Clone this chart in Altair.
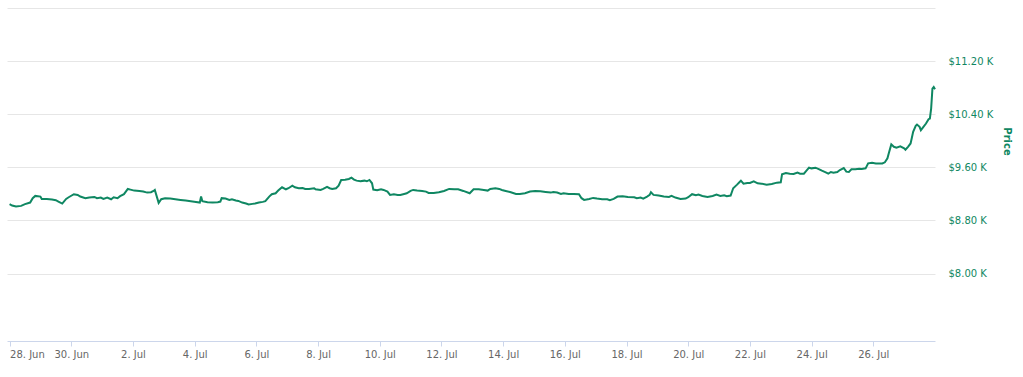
import altair as alt
import pandas as pd

# Hours elapsed since 2020-06-28 00:00 (local) and BTC price in USD
hours = [0, 2, 5, 9, 12, 16, 18, 20, 24, 25, 29, 33, 36, 38, 41, 44, 46, 50, 53, 55,
         59, 62, 66, 68, 71, 73, 76, 79, 81, 84, 86, 89, 92, 94, 97, 101, 104, 107, 110, 112,
         113, 116, 118, 121, 125, 129, 133, 137, 141, 145, 148, 149, 150, 154, 158, 162, 164, 165, 168, 171,
         173, 176, 178, 181, 184, 186, 189, 191, 194, 197, 199, 202, 204, 207, 209, 212, 215, 217, 220, 222,
         225, 228, 230, 233, 237, 238, 242, 244, 247, 249, 251, 254, 256, 258, 261, 264, 266, 268, 270, 273,
         276, 278, 280, 282, 283, 286, 289, 291, 294, 296, 299, 302, 304, 307, 309, 312, 314, 317, 321, 324,
         326, 330, 334, 338, 342, 346, 349, 353, 358, 361, 365, 369, 372, 374, 378, 381, 383, 386, 390, 394,
         397, 401, 405, 409, 413, 417, 421, 423, 426, 429, 431, 435, 439, 443, 445, 447, 451, 454, 457, 461,
         465, 467, 470, 473, 477, 481, 486, 488, 491, 493, 496, 498, 499, 501, 505, 509, 513, 515, 518, 522,
         526, 528, 531, 534, 536, 539, 543, 547, 550, 553, 556, 558, 561, 563, 566, 568, 569, 571, 574, 576,
         579, 582, 585, 589, 593, 597, 600, 601, 604, 607, 610, 613, 615, 618, 620, 622, 624, 627, 630, 632,
         635, 637, 639, 641, 644, 646, 649, 651, 653, 655, 658, 661, 663, 666, 668, 671, 674, 676, 679, 681,
         683, 684, 686, 688, 690, 693, 696, 697, 699, 701, 702, 703, 705, 706, 708, 709, 711, 713, 715, 716,
         717, 718, 719, 720]

prices = [9046, 9025, 9010, 9020, 9046, 9070, 9136, 9170, 9160, 9125, 9125, 9115, 9106, 9085, 9055, 9125, 9150, 9196, 9185, 9160,
          9136, 9145, 9155, 9136, 9145, 9125, 9145, 9120, 9150, 9136, 9166, 9196, 9275, 9265, 9250, 9245, 9235, 9220, 9226, 9245,
          9260, 9065, 9120, 9136, 9130, 9120, 9110, 9100, 9090, 9080, 9070, 9160, 9090, 9076, 9070, 9076, 9085, 9136, 9130, 9110,
          9120, 9100, 9095, 9070, 9055, 9040, 9050, 9055, 9070, 9080, 9090, 9160, 9196, 9210, 9250, 9300, 9270, 9286, 9325, 9300,
          9286, 9290, 9275, 9275, 9286, 9270, 9260, 9275, 9305, 9286, 9275, 9286, 9325, 9410, 9415, 9425, 9445, 9415, 9400, 9390,
          9400, 9390, 9410, 9360, 9265, 9255, 9270, 9260, 9235, 9185, 9196, 9185, 9185, 9200, 9210, 9245, 9260, 9250, 9245, 9235,
          9215, 9215, 9226, 9245, 9275, 9270, 9270, 9245, 9210, 9270, 9270, 9260, 9250, 9275, 9286, 9275, 9260, 9245, 9226, 9200,
          9200, 9210, 9235, 9245, 9240, 9230, 9220, 9230, 9220, 9200, 9210, 9200, 9200, 9196, 9136, 9110, 9125, 9140, 9130, 9120,
          9120, 9106, 9125, 9160, 9166, 9155, 9150, 9136, 9145, 9130, 9160, 9185, 9226, 9185, 9175, 9160, 9155, 9170, 9145, 9125,
          9130, 9150, 9196, 9180, 9190, 9170, 9155, 9170, 9190, 9170, 9180, 9166, 9175, 9286, 9340, 9380, 9400, 9355, 9365, 9365,
          9390, 9360, 9355, 9340, 9350, 9370, 9375, 9495, 9515, 9505, 9500, 9520, 9505, 9505, 9550, 9595, 9585, 9595, 9570, 9550,
          9525, 9505, 9530, 9520, 9530, 9560, 9590, 9535, 9530, 9570, 9570, 9580, 9575, 9585, 9660, 9670, 9660, 9660, 9660, 9676,
          9736, 9810, 9946, 9910, 9895, 9916, 9886, 9865, 9910, 9960, 10045, 10135, 10225, 10245, 10210, 10160, 10210, 10260, 10325, 10335,
          10485, 10785, 10810, 10775]

start = pd.Timestamp("2020-06-28 00:00")
df = pd.DataFrame({
    "time": [start + pd.Timedelta(hours=h) for h in hours],
    "price": prices,
})

tick_days = [(6, 28), (6, 30), (7, 2), (7, 4), (7, 6), (7, 8), (7, 10), (7, 12),
             (7, 14), (7, 16), (7, 18), (7, 20), (7, 22), (7, 24), (7, 26)]
price_ticks = [8000, 8800, 9600, 10400, 11200, 12000]

green = "#0f8762"

x_axis = alt.Axis(
    values=[alt.DateTime(year=2020, month=m, date=d) for m, d in tick_days],
    format="%-d. %b",
    title=None,
    grid=False,
    domainColor="#ccd6eb",
    tickColor="#ccd6eb",
    tickSize=5,
    labelPadding=3,
    labelFont="DejaVu Sans",
    labelFontSize=10,
    labelColor="#666666",
    labelFlush=5,
)

y_axis = alt.Axis(
    orient="right",
    values=price_ticks,
    labelExpr="datum.value >= 12000 ? '' : '$' + format(datum.value / 1000, '.2f') + ' K'",
    domain=False,
    ticks=False,
    labelPadding=13,
    labelFont="DejaVu Sans",
    labelFontSize=10,
    labelColor=green,
    gridColor="#e6e6e6",
    title="Price",
    titleFont="DejaVu Sans",
    titleFontSize=10,
    titleFontWeight="bold",
    titleColor=green,
    titleAngle=90,
    titleAlign="center",
    titleBaseline="middle",
    titleX=71,
    titleY=133,
)

chart = (
    alt.Chart(df)
    .mark_line(color=green, strokeWidth=2)
    .encode(
        x=alt.X("time:T", axis=x_axis,
                scale=alt.Scale(domain=[alt.DateTime(year=2020, month=6, date=27, hours=22),
                                        alt.DateTime(year=2020, month=7, date=28, hours=0)])),
        y=alt.Y("price:Q", axis=y_axis,
                scale=alt.Scale(domain=[6985, 12000], zero=False, nice=False)),
    )
    .properties(
        width=928,
        height=333,
        autosize=alt.AutoSizeParams(type="none"),
        padding={"left": 7, "top": 8, "right": 88, "bottom": 36},
        background="white",
    )
    .configure_view(stroke=None)
)

chart.save("out.html", embed_options={"renderer": "svg", "actions": False})
